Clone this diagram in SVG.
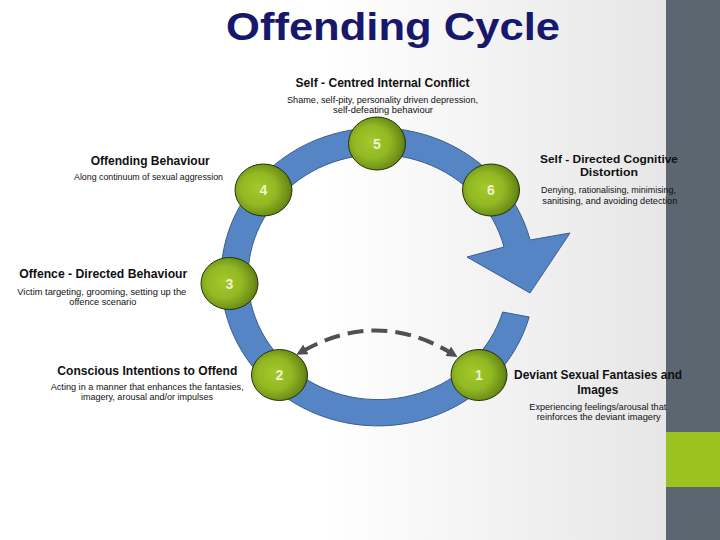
<svg xmlns="http://www.w3.org/2000/svg" width="720" height="540" viewBox="0 0 720 540">
  <style>
    .h { font-family: "Liberation Sans", Arial, sans-serif; font-weight: bold; font-size: 13.5px; fill: #111; }
    .h2 { font-family: "Liberation Sans", Arial, sans-serif; font-weight: bold; font-size: 11.5px; fill: #111; }
    .d { font-family: "Liberation Sans", Arial, sans-serif; font-size: 9px; fill: #111; }
    .num { font-family: "Liberation Sans", Arial, sans-serif; font-weight: bold; font-size: 14px; fill: #eef3cc; text-anchor: middle; }
    .ball { fill: url(#ballGrad); stroke: #25330a; stroke-width: 1; }
    .ring { fill: #5585c4; stroke: #3a5e8c; stroke-width: 1; }
    .dash { fill: none; stroke: #505050; stroke-width: 4; stroke-dasharray: 16 8; }
  </style>
  <defs>
    <linearGradient id="bgGrad" x1="0" y1="0" x2="1" y2="0">
      <stop offset="0" stop-color="#ffffff"/>
      <stop offset="0.45" stop-color="#ffffff"/>
      <stop offset="1" stop-color="#e2e2e2"/>
    </linearGradient>
    <radialGradient id="ballGrad" cx="0.42" cy="0.5" r="0.62" fx="0.4" fy="0.45">
      <stop offset="0" stop-color="#a3c92b"/>
      <stop offset="0.5" stop-color="#92b823"/>
      <stop offset="0.85" stop-color="#6b8d17"/>
      <stop offset="1" stop-color="#4b670c"/>
    </radialGradient>
    <marker id="ah" viewBox="0 0 10 10" refX="3" refY="5" markerWidth="11" markerHeight="11" markerUnits="userSpaceOnUse" orient="auto-start-reverse">
      <path d="M0,0 L10,5 L0,10 z" fill="#505050"/>
    </marker>
  </defs>

  <rect x="0" y="0" width="720" height="540" fill="url(#bgGrad)"/>
  <g id="sidebar">
    <rect x="666" y="0" width="54" height="540" fill="#5c6670"/>
    <rect x="666" y="432" width="54" height="55" fill="#9bc320"/>
  </g>

  <text x="226" y="40" font-family="Liberation Sans, Arial, sans-serif" font-weight="bold" font-size="39" fill="#17176b" textLength="334" lengthAdjust="spacingAndGlyphs">Offending Cycle</text>

  <g id="connectors">
    <path class="ring" d="M 529.2 317 A 157 149 0 1 1 530.1 240 L 570 233 L 530 293 L 467 257 L 504 247 A 130 122.5 0 1 0 502.6 312 Z"/>
    <path class="dash" d="M 303 351 Q 378 309 451 353" marker-start="url(#ah)" marker-end="url(#ah)"/>
  </g>

  <g id="node-5">
    <ellipse class="ball" cx="377" cy="143.5" rx="28.5" ry="26.5"/>
    <text class="num" x="377" y="148.5">5</text>
    <text class="h" x="295.5" y="87" textLength="174" lengthAdjust="spacingAndGlyphs">Self - Centred Internal Conflict</text>
    <text class="d" x="287" y="103" textLength="191" lengthAdjust="spacingAndGlyphs">Shame, self-pity, personality driven depression,</text>
    <text class="d" x="333" y="113" textLength="100" lengthAdjust="spacingAndGlyphs">self-defeating behaviour</text>
  </g>

  <g id="node-4">
    <ellipse class="ball" cx="263.5" cy="190" rx="28.5" ry="26"/>
    <text class="num" x="263.5" y="195">4</text>
    <text class="h" x="90.7" y="165" textLength="119" lengthAdjust="spacingAndGlyphs">Offending Behaviour</text>
    <text class="d" x="74" y="180" textLength="149" lengthAdjust="spacingAndGlyphs">Along continuum of sexual aggression</text>
  </g>

  <g id="node-6">
    <ellipse class="ball" cx="491" cy="190" rx="28.5" ry="26"/>
    <text class="num" x="491" y="195">6</text>
    <text class="h2" x="540" y="162.5" textLength="138" lengthAdjust="spacingAndGlyphs">Self - Directed Cognitive</text>
    <text class="h2" x="580" y="175.5" textLength="58" lengthAdjust="spacingAndGlyphs">Distortion</text>
    <text class="d" x="541" y="193" textLength="135" lengthAdjust="spacingAndGlyphs">Denying, rationalising, minimising,</text>
    <text class="d" x="542.3" y="203.5" textLength="135" lengthAdjust="spacingAndGlyphs">sanitising, and avoiding detection</text>
  </g>

  <g id="node-3">
    <ellipse class="ball" cx="229.5" cy="283.5" rx="28.5" ry="26"/>
    <text class="num" x="229.5" y="288.5">3</text>
    <text class="h" x="19.3" y="278" textLength="168" lengthAdjust="spacingAndGlyphs">Offence - Directed Behaviour</text>
    <text class="d" x="17.3" y="295" textLength="169" lengthAdjust="spacingAndGlyphs">Victim targeting, grooming, setting up the</text>
    <text class="d" x="69.3" y="304.5" textLength="67" lengthAdjust="spacingAndGlyphs">offence scenario</text>
  </g>

  <g id="node-2">
    <ellipse class="ball" cx="279.5" cy="375" rx="28" ry="25.5"/>
    <text class="num" x="279.5" y="380">2</text>
    <text class="h" x="57.3" y="375" textLength="180" lengthAdjust="spacingAndGlyphs">Conscious Intentions to Offend</text>
    <text class="d" x="50.7" y="390" textLength="193" lengthAdjust="spacingAndGlyphs">Acting in a manner that enhances the fantasies,</text>
    <text class="d" x="81" y="400" textLength="132" lengthAdjust="spacingAndGlyphs">imagery, arousal and/or impulses</text>
  </g>

  <g id="node-1">
    <ellipse class="ball" cx="479" cy="375" rx="28" ry="25.5"/>
    <text class="num" x="479" y="380">1</text>
    <text class="h" x="514" y="379" textLength="168" lengthAdjust="spacingAndGlyphs">Deviant Sexual Fantasies and</text>
    <text class="h" x="577.3" y="393.5" textLength="41" lengthAdjust="spacingAndGlyphs">Images</text>
    <text class="d" x="529.3" y="409.5" textLength="137" lengthAdjust="spacingAndGlyphs">Experiencing feelings/arousal that</text>
    <text class="d" x="536.7" y="419.5" textLength="124" lengthAdjust="spacingAndGlyphs">reinforces the deviant imagery</text>
  </g>
</svg>
